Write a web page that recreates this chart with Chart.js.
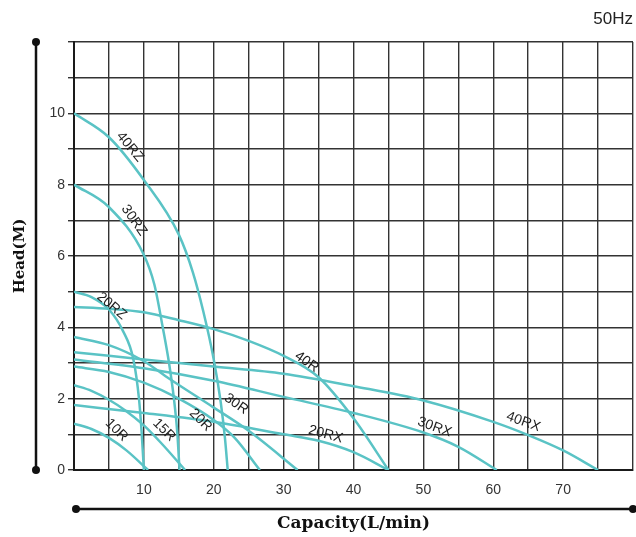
<!DOCTYPE html>
<html>
<head>
<meta charset="utf-8">
<script src="https://cdn.jsdelivr.net/npm/chart.js@4"></script>
<style>
  html, body { margin: 0; padding: 0; background: #fff; }
  #wrap { width: 636px; height: 537px; }
</style>
</head>
<body>
<div id="wrap"><canvas id="pumpChart"></canvas></div>
<script>
// curve data: capacity (L/min) and head (M)
const q40RZ = [0, 5, 10, 15, 17, 18.5, 20, 21, 21.6, 22];
const h40RZ = [10, 9.33, 8.13, 6.6, 5.55, 4.45, 3.1, 1.9, 0.9, 0];
const q30RZ = [0, 5, 10, 11.5, 12.7, 13.6, 14.3, 14.8, 15.1];
const h30RZ = [8, 7.37, 6.03, 5.2, 4.0, 3.0, 2.0, 1.0, 0];
const q20RZ = [0, 2.5, 5, 7, 8.5, 9.3, 9.7, 10];
const h20RZ = [5, 4.85, 4.5, 3.9, 3.1, 2, 1, 0];
const q40R = [0, 5, 10, 15, 20, 25, 30, 35, 40, 45];
const h40R = [4.57, 4.52, 4.42, 4.2, 3.95, 3.62, 3.2, 2.6, 1.45, 0];
const q30R = [0, 5, 10, 13.7, 20, 25, 32];
const h30R = [3.73, 3.5, 3.05, 2.55, 1.75, 1.1, 0];
const q20R = [0, 5, 10, 15, 20, 23, 26.6];
const h20R = [2.9, 2.75, 2.45, 2.0, 1.4, 0.9, 0];
const q15R = [0, 2.5, 5, 7.5, 10, 12.5, 15.9];
const h15R = [2.38, 2.22, 1.97, 1.65, 1.25, 0.75, 0];
const q10R = [0, 2.5, 5, 7.5, 10.6];
const h10R = [1.3, 1.15, 0.9, 0.55, 0];
const q20RX = [0, 10, 20, 30, 35, 40, 45];
const h20RX = [1.82, 1.6, 1.35, 1.0, 0.82, 0.5, 0];
const q30RX = [0, 10, 20, 30, 40, 50, 55, 60.5];
const h30RX = [3.1, 2.85, 2.5, 2.05, 1.6, 1.05, 0.65, 0];
const q40RX = [0, 10, 20, 30, 40, 50, 60, 65, 70, 75];
const h40RX = [3.3, 3.1, 2.9, 2.7, 2.35, 1.95, 1.35, 0.98, 0.55, 0];

const curveNames = ['40RZ', '30RZ', '20RZ', '40R', '30R', '20R', '15R', '10R', '20RX', '30RX', '40RX'];
const curveQ = [q40RZ, q30RZ, q20RZ, q40R, q30R, q20R, q15R, q10R, q20RX, q30RX, q40RX];
const curveH = [h40RZ, h30RZ, h20RZ, h40R, h30R, h20R, h15R, h10R, h20RX, h30RX, h40RX];

// where each curve name sits (data units) and its slant in degrees
const labelQ = [8, 8.6, 5.4, 33.3, 23.2, 18.1, 12.9, 6.1, 36, 51.6, 64.3];
const labelH = [9.06, 7.0, 4.6, 3.03, 1.85, 1.4, 1.12, 1.12, 1.0, 1.2, 1.35];
const labelAngle = [50, 55, 40, 35, 35, 45, 45, 45, 15, 20, 20];

const curveColor = '#5ac3c5';

const datasets = curveNames.map((name, i) => ({
    label: name,
    data: curveQ[i].map((q, j) => ({ x: q, y: curveH[i][j] })),
    borderColor: curveColor,
    borderWidth: 2.5,
    pointRadius: 0,
    showLine: true,
    cubicInterpolationMode: 'monotone',
    fill: false
}));

// curve names, side rails with dots and the 50Hz tag
const decorations = {
    id: 'decorations',
    afterDatasetsDraw(chart) {
        const { ctx, scales } = chart;
        ctx.save();
        ctx.fillStyle = '#1e1e1e';
        ctx.font = '14px "Liberation Sans", Arial, sans-serif';
        ctx.textAlign = 'center';
        ctx.textBaseline = 'middle';
        curveNames.forEach((name, i) => {
            const px = scales.x.getPixelForValue(labelQ[i]);
            const py = scales.y.getPixelForValue(labelH[i]);
            ctx.save();
            ctx.translate(px, py);
            ctx.rotate(labelAngle[i] * Math.PI / 180);
            ctx.fillText(name, 0, 0);
            ctx.restore();
        });
        ctx.restore();
    },
    afterDraw(chart) {
        const { ctx, chartArea } = chart;
        ctx.save();
        ctx.strokeStyle = '#111';
        ctx.fillStyle = '#111';
        ctx.lineWidth = 2.5;
        // left rail
        ctx.beginPath();
        ctx.moveTo(36, chartArea.top);
        ctx.lineTo(36, chartArea.bottom);
        ctx.stroke();
        [chartArea.top, chartArea.bottom].forEach(y => {
            ctx.beginPath();
            ctx.arc(36, y, 4, 0, Math.PI * 2);
            ctx.fill();
        });
        // bottom rail
        ctx.beginPath();
        ctx.moveTo(76, 509);
        ctx.lineTo(633, 509);
        ctx.stroke();
        [76, 633].forEach(x => {
            ctx.beginPath();
            ctx.arc(x, 509, 4, 0, Math.PI * 2);
            ctx.fill();
        });
        ctx.font = '17px "Liberation Sans", Arial, sans-serif';
        ctx.fillStyle = '#222';
        ctx.textAlign = 'right';
        ctx.textBaseline = 'middle';
        ctx.fillText('50Hz', 633, 19);
        ctx.restore();
    }
};

new Chart(document.getElementById('pumpChart'), {
    type: 'scatter',
    data: { datasets: datasets },
    options: {
        responsive: true,
        maintainAspectRatio: false,
        animation: false,
        layout: { padding: { left: 0, top: 42, right: 3, bottom: 0 } },
        plugins: { legend: { display: false }, tooltip: { enabled: false } },
        scales: {
            x: {
                type: 'linear',
                min: 0,
                max: 80,
                afterFit: s => { s.height = 67; s.paddingLeft = 0; s.paddingRight = 0; },
                grid: { color: '#333', lineWidth: 1.4, drawTicks: false },
                border: { display: true, color: '#1a1a1a', width: 2 },
                ticks: {
                    stepSize: 5,
                    padding: 12,
                    maxRotation: 0,
                    autoSkip: false,
                    color: '#333',
                    font: { family: '"Liberation Sans", Arial, sans-serif', size: 14 },
                    callback: v => (v % 10 === 0 && v > 0 && v < 80) ? v : ''
                },
                title: {
                    display: true,
                    text: 'Capacity(L/min)',
                    color: '#111',
                    font: { family: '"DejaVu Serif", serif', size: 17, weight: 'bold' },
                    padding: { top: 4, bottom: 3 }
                }
            },
            y: {
                type: 'linear',
                min: 0,
                max: 12,
                afterFit: s => { s.width = 74; s.paddingTop = 0; s.paddingBottom = 0; },
                grid: { color: '#333', lineWidth: 1.4, tickLength: 6, tickColor: '#333' },
                border: { display: true, color: '#1a1a1a', width: 2 },
                ticks: {
                    stepSize: 1,
                    padding: 3,
                    autoSkip: false,
                    color: '#333',
                    font: { family: '"Liberation Sans", Arial, sans-serif', size: 14 },
                    callback: v => (v % 2 === 0 && v < 12) ? v : ''
                },
                title: {
                    display: true,
                    text: 'Head(M)',
                    color: '#111',
                    font: { family: '"DejaVu Serif", serif', size: 15, weight: 'bold' },
                    padding: { top: 11, bottom: 4 }
                }
            }
        }
    },
    plugins: [decorations]
});
</script>
</body>
</html>
